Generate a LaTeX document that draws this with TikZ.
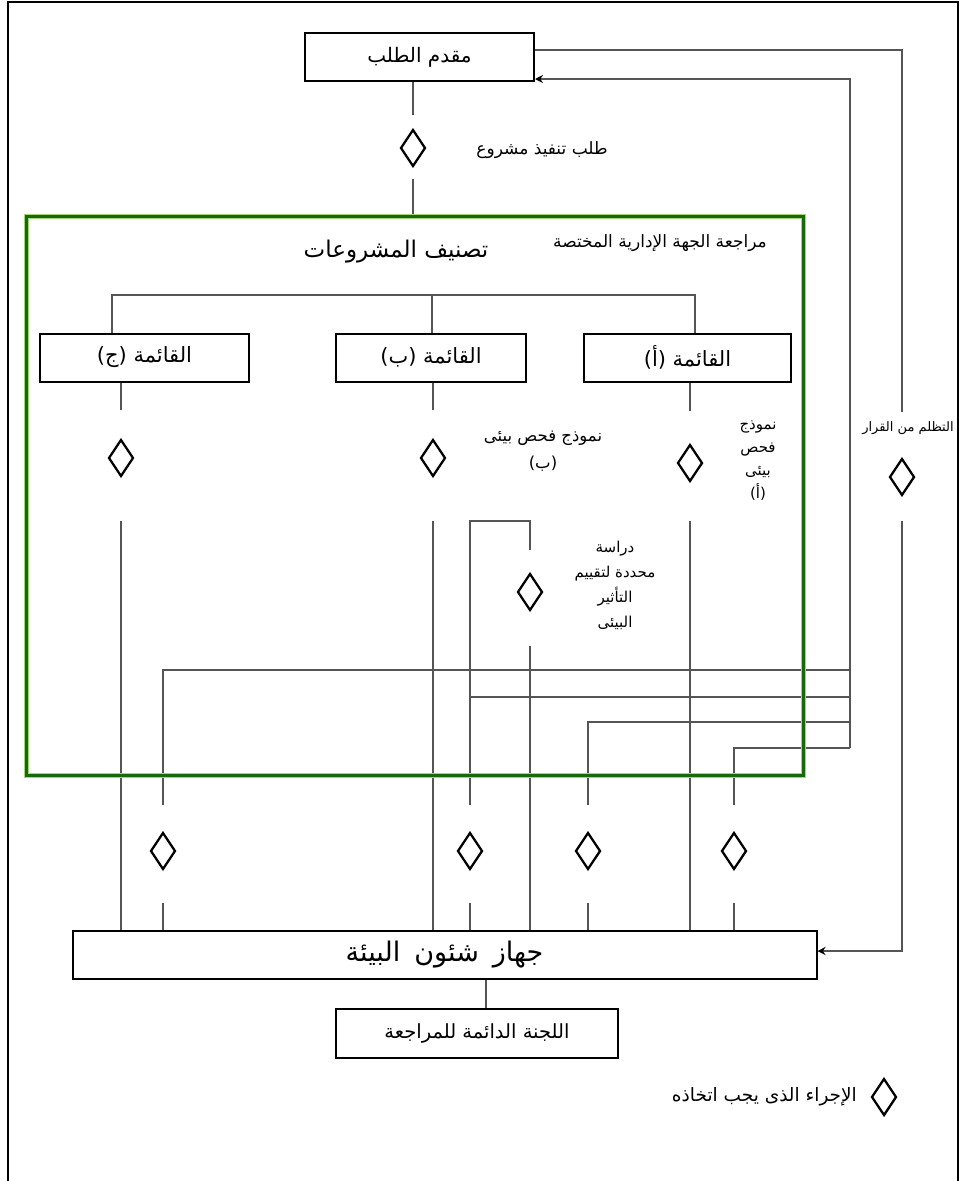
\documentclass[tikz,border=0pt]{standalone}
\usepackage{fontspec}
\newfontfamily\arabicfont[Script=Arabic]{DejaVu Sans}
\TeXXeTstate=1
\usetikzlibrary{arrows.meta, positioning, shapes.geometric}
\definecolor{LinkGray}{RGB}{85, 85, 85}
\definecolor{FrameGreen}{RGB}{25, 105, 10}
\definecolor{HaloGreen}{RGB}{160, 215, 120}
\newcommand{\artxt}[1]{{\arabicfont\beginR #1\endR}}

\begin{document}
\begin{tikzpicture}[x=1pt, y=-1pt, >=Stealth, node distance=14pt,
    every node/.style={font=\fontsize{17}{20}\selectfont},
    box/.style={draw, line width=2pt, inner sep=0pt, minimum height=48pt, font=\fontsize{20}{24}\selectfont},
    actdiam/.style={diamond, draw, line width=2.3pt, inner sep=0pt, minimum width=25pt, minimum height=37pt},
    link/.style={LinkGray, line width=2.8pt},
    tip/.style={-{Stealth[length=8pt, width=8pt, black]}}]
    \useasboundingbox (0,0) rectangle (963,1181);
    \draw[line width=2.2pt] (8,1195) -- (8,2) -- (958,2) -- (958,1195);

    % Applicant and request
    \node[box, minimum width=229pt] (applicant) at (419.5,57) {\artxt{مقدم الطلب}};
    \node[actdiam] (dReq) at (413,148) {};
    \node (reqLabel) at (542,150) {\artxt{طلب تنفيذ مشروع}};

    % Administrative review
    \node[minimum width=776pt, minimum height=558pt, inner sep=0pt] (reviewbox) at (415,496) {};
    \node (reviewLabel) at (660,243) {\artxt{مراجعة الجهة الإدارية المختصة}};
    \node[font=\fontsize{23}{26}\selectfont] (classTitle) at (396,252) {\artxt{تصنيف المشروعات}};
    \node[box, minimum width=209pt, font=\fontsize{21}{24}\selectfont] (listC) at (144.5,357.5) {\artxt{القائمة (ج)}};
    \node[box, minimum width=190pt, font=\fontsize{21}{24}\selectfont] (listB) at (431,357.5) {\artxt{القائمة (ب)}};
    \node[box, minimum width=207pt, font=\fontsize{21}{24}\selectfont] (listA) at (687.5,357.5) {\artxt{القائمة (أ)}};

    % Actions
    \node[actdiam] (dC) at (121,458) {};
    \node[actdiam] (dB) at (433,458) {};
    \node[actdiam] (dA) at (690,463) {};
    \node[actdiam] (dStudy) at (530,592) {};
    \node[actdiam] (dAppeal) at (902,477) {};
    \foreach \n/\x in {1/163, 2/470, 3/588, 4/734}
        \node[actdiam] (e\n) at (\x,851) {};
    \node[align=center, font=\fontsize{16.5}{27}\selectfont] (labB) at (543,451) {\artxt{نموذج فحص بيئى}\\\artxt{(ب)}};
    \node[align=center, font=\fontsize{15}{23}\selectfont] (labA) at (758,461) {\artxt{نموذج}\\\artxt{فحص}\\\artxt{بيئى}\\\artxt{(أ)}};
    \node[align=center, font=\fontsize{15}{25}\selectfont] (labStudy) at (615,585) {\artxt{دراسة}\\\artxt{محددة لتقييم}\\\artxt{التأثير}\\\artxt{البيئى}};
    \node[font=\fontsize{13}{16}\selectfont] (labAppeal) at (908,428) {\artxt{التظلم من القرار}};

    % Environmental agency
    \node[box, minimum width=744pt, font=\fontsize{27}{30}\selectfont] (agency) at (444.5,955) {\artxt{جهاز\hspace{14pt}شئون\hspace{14pt}البيئة}};
    \node[box, minimum width=282pt, minimum height=49pt, below=28pt of agency, xshift=32.5pt, font=\fontsize{19.5}{22}\selectfont] (committee) {\artxt{اللجنة الدائمة للمراجعة}};
    \node[actdiam] (legendD) at (884,1097) {};
    \node[left=10pt of legendD, font=\fontsize{18.5}{21}\selectfont] (legendText) {\artxt{الإجراء الذى يجب اتخاذه}};

    % Request flow
    \draw[link, shorten >=13pt] (applicant.south -| dReq) -- (dReq);
    \draw[link, shorten <=11pt] (dReq) -- (reviewbox.north -| dReq);

    % Classification tree
    \coordinate (tC) at (112,295);
    \coordinate (tB) at (432,295);
    \coordinate (tA) at (695,295);
    \draw[link] (listC.north -| tC) -- (tC) -- (tA) -- (listA.north -| tA);
    \draw[link] (tB) -- (listB.north -| tB);
    \draw[link, shorten >=28pt] (listC.south -| dC) -- (dC);
    \draw[link, shorten >=28pt] (listB.south -| dB) -- (dB);
    \draw[link, shorten >=32pt] (listA.south -| dA) -- (dA);

    % Columns down to the agency
    \coordinate (colTop) at (0,521);
    \foreach \d in {dC, dB, dA}
        \draw[link] (\d |- colTop) -- (\d |- agency.north);
    \draw[link, shorten <=22pt, shorten >=26pt] (dStudy) -- (dStudy |- colTop) -| (e2);
    \draw[link, shorten <=34pt] (dStudy) -- (dStudy |- agency.north);

    % Decisions back to the applicant
    \coordinate (busTop) at (850,79);
    \coordinate (h1) at (850,670);
    \coordinate (h2) at (850,697);
    \coordinate (h3) at (850,722);
    \coordinate (h4) at (850,748);
    \draw[link, tip] (h4) -- (busTop) -- (applicant.east |- busTop);
    \draw[link, shorten >=26pt] (h1) -| (e1);
    \draw[link] (h2) -- (h2 -| e2);
    \draw[link, shorten >=26pt] (h3) -| (e3);
    \draw[link, shorten >=26pt] (h4) -| (e4);
    \foreach \n in {1,...,4}
        \draw[link, shorten <=32pt] (e\n) -- (e\n |- agency.north);

    % Appeal
    \coordinate (appTop) at (902,50);
    \coordinate (appBot) at (902,951);
    \draw[link, shorten >=45pt] (applicant.east |- appTop) -- (appTop) -- (dAppeal);
    \draw[link, tip, shorten <=24pt] (dAppeal) -- (appBot) -- (agency.east |- appBot);
    \draw[link] (agency.south -| 486,0) -- (committee.north -| 486,0);

    % Review frame on top
    \draw[HaloGreen, line width=5pt] (reviewbox.north west) rectangle (reviewbox.south east);
    \draw[FrameGreen, line width=2.8pt] (reviewbox.north west) rectangle (reviewbox.south east);
\end{tikzpicture}
\end{document}
